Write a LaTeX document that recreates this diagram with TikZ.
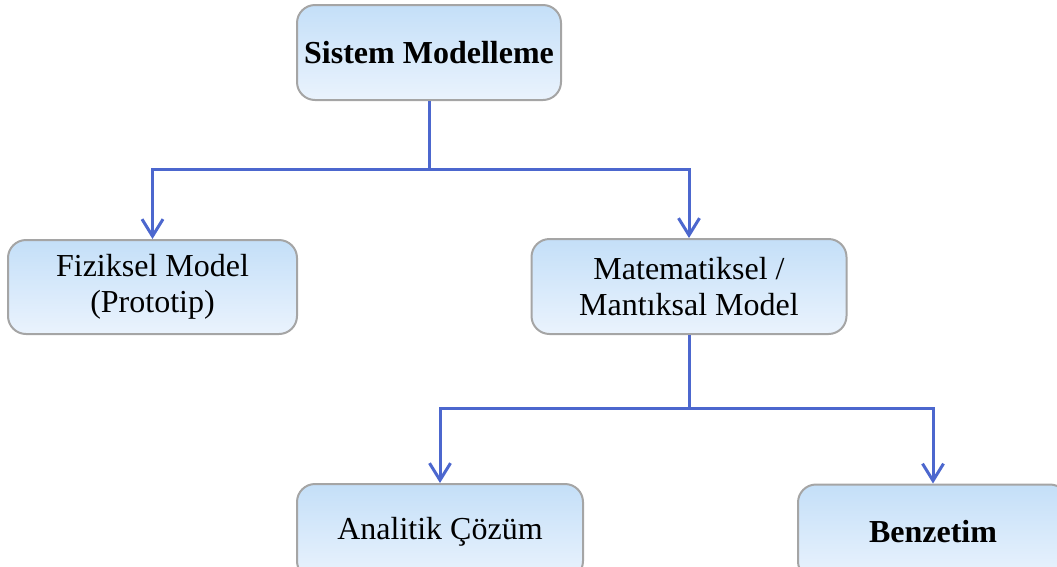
\documentclass[tikz,border=0pt]{standalone}
\usepackage{fontspec}
\setmainfont{Liberation Serif}
\usetikzlibrary{arrows.meta}
\definecolor{conncol}{RGB}{76,103,206}
\definecolor{boxtop}{RGB}{196,223,248}
\definecolor{boxbot}{RGB}{234,243,253}
\definecolor{boxline}{RGB}{165,165,165}
\tikzset{
  box/.style={draw=boxline, line width=2pt, rounded corners=18pt,
    top color=boxtop, bottom color=boxbot, inner sep=0pt,
    align=center, text=black, font=\fontsize{32}{36}\selectfont},
  conn/.style={draw=conncol, line width=3pt,
    -{Straight Barb[length=17pt,width=21pt,line width=3pt]}},
  plain/.style={draw=conncol, line width=3pt}
}
\begin{document}
\begin{tikzpicture}[x=1pt,y=-1pt]
\useasboundingbox (0,0) rectangle (1057,566);
\clip (0,0) rectangle (1057,566);
\node[box, minimum width=264pt, minimum height=95pt, font=\fontsize{32}{36}\selectfont\bfseries] (A) at (429,52.5) {Sistem Modelleme};
\node[box, minimum width=289pt, minimum height=94pt] (B) at (152.5,287) {Fiziksel Model\\(Prototip)};
\node[box, minimum width=315pt, minimum height=95pt] (C) at (689,286.5) {Matematiksel /\\Mantıksal Model};
\node[box, minimum width=286pt, minimum height=95pt] (D) at (440,531.5) {Analitik Çözüm};
\node[box, minimum width=270pt, minimum height=95pt, font=\fontsize{32}{36}\selectfont\bfseries] (E) at (933,532) {Benzetim};
\coordinate (j1) at (429,169);
\coordinate (j2) at (689,408);
\draw[plain] (A.south) -- (j1);
\draw[conn] (j1) -| (B.north);
\draw[conn] (j1) -| (C.north);
\draw[plain] (C.south) -- (j2);
\draw[conn] (j2) -| (D.north);
\draw[conn] (j2) -| (E.north);
\end{tikzpicture}
\end{document}
